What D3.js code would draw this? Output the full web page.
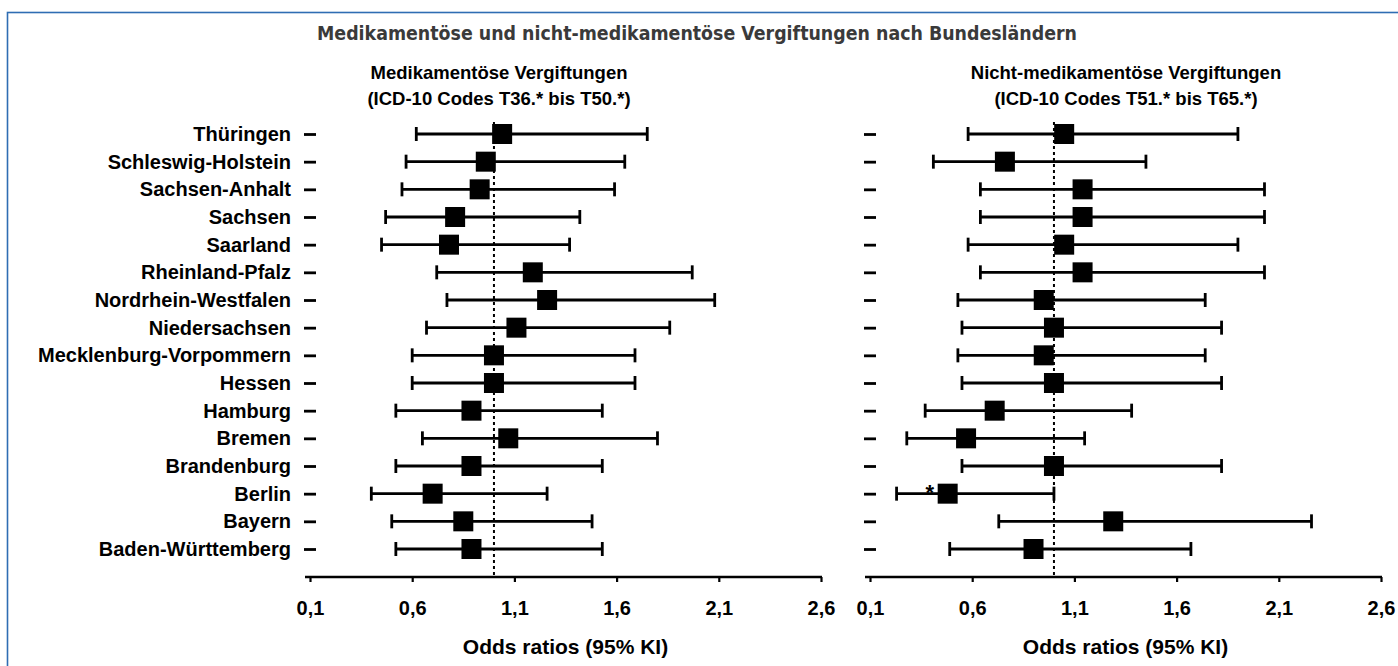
<!DOCTYPE html>
<html>
<head>
<meta charset="utf-8">
<script src="https://cdn.jsdelivr.net/npm/d3@7"></script>
<style>
  body { margin: 0; background: white; }
  text { font-family: "Liberation Sans", Arial, Helvetica, sans-serif; }
</style>
</head>
<body>
<div id="chart"></div>
<script>
var width = 1398,
height = 666;

// rows, top to bottom
var states = ["Thüringen", "Schleswig-Holstein", "Sachsen-Anhalt", "Sachsen", "Saarland",
  "Rheinland-Pfalz", "Nordrhein-Westfalen", "Niedersachsen", "Mecklenburg-Vorpommern",
  "Hessen", "Hamburg", "Bremen", "Brandenburg", "Berlin", "Bayern", "Baden-Württemberg"];

// Medikamentöse Vergiftungen: odds ratio, lower / upper 95% KI
var medOR   = [1.04, 0.96, 0.93, 0.81, 0.78, 1.19, 1.26, 1.11, 1.00, 1.00, 0.89, 1.07, 0.89, 0.70, 0.85, 0.89];
var medLow  = [0.62, 0.57, 0.55, 0.47, 0.45, 0.72, 0.77, 0.67, 0.60, 0.60, 0.52, 0.65, 0.52, 0.40, 0.50, 0.52];
var medHigh = [1.75, 1.64, 1.59, 1.42, 1.37, 1.97, 2.08, 1.86, 1.69, 1.69, 1.53, 1.80, 1.53, 1.26, 1.48, 1.53];

// Nicht-medikamentöse Vergiftungen
var nonOR   = [1.05, 0.76, 1.14, 1.14, 1.05, 1.14, 0.95, 1.00, 0.95, 1.00, 0.71, 0.57, 1.00, 0.48, 1.29, 0.90];
var nonLow  = [0.58, 0.41, 0.64, 0.64, 0.58, 0.64, 0.53, 0.55, 0.53, 0.55, 0.37, 0.28, 0.55, 0.23, 0.73, 0.49];
var nonHigh = [1.90, 1.45, 2.03, 2.03, 1.90, 2.03, 1.74, 1.82, 1.74, 1.82, 1.38, 1.15, 1.82, 1.00, 2.26, 1.67];
var nonStars = ["Berlin"];

var tickValues = [0.1, 0.6, 1.1, 1.6, 2.1, 2.6];
var tickLabels = ["0,1", "0,6", "1,1", "1,6", "2,1", "2,6"];
var refValue = 1.0;

var mainTitle = "Medikamentöse und nicht-medikamentöse Vergiftungen nach Bundesländern";
var axisTitle = "Odds ratios (95% KI)";

var svg = d3.select("#chart").append("svg")
  .attr("width", width)
  .attr("height", height);

// blue frame
svg.append("rect")
  .attr("x", 7.5)
  .attr("y", 12.5)
  .attr("width", width + 20)
  .attr("height", height + 20)
  .attr("fill", "none")
  .attr("stroke", "#2f6db3")
  .attr("stroke-width", 1.6);

svg.append("text")
  .attr("x", 697)
  .attr("y", 40)
  .attr("text-anchor", "middle")
  .attr("textLength", 760)
  .attr("lengthAdjust", "spacingAndGlyphs")
  .style("font-family", "'DejaVu Sans Condensed', 'DejaVu Sans', sans-serif")
  .style("font-size", "20px")
  .style("font-weight", "bold")
  .style("fill", "#3a3a3a")
  .text(mainTitle);

var y = d3.scalePoint()
  .domain(states)
  .range([134, 549]);

var axisY = 577;

graph({
  range: [310, 821],
  titleX: 499,
  titles: ["Medikamentöse Vergiftungen", "(ICD-10 Codes T36.* bis T50.*)"],
  or: medOR, low: medLow, high: medHigh,
  labels: true, stars: []
});

graph({
  range: [870, 1381],
  titleX: 1126,
  titles: ["Nicht-medikamentöse Vergiftungen", "(ICD-10 Codes T51.* bis T65.*)"],
  or: nonOR, low: nonLow, high: nonHigh,
  labels: false, stars: nonStars
});

function graph(p) {
  var x = d3.scaleLinear()
    .domain([0.1, 2.6])
    .range(p.range);

  var g = svg.append("g");

  g.selectAll(".sub-title")
    .data(p.titles)
    .enter().append("text")
    .attr("class", "sub-title")
    .attr("x", p.titleX)
    .attr("y", function(d, i) { return 79 + i * 26; })
    .attr("text-anchor", "middle")
    .style("font-size", "18.5px")
    .style("font-weight", "bold")
    .text(function(d) { return d; });

  // y ticks with state names
  var yAxis = d3.axisLeft(y)
    .tickSize(12)
    .tickPadding(13)
    .tickFormat(function(d) { return p.labels ? d : ""; });

  var ya = g.append("g")
    .attr("transform", "translate(" + (p.range[0] + 6) + ",0)")
    .call(yAxis);
  ya.select(".domain").remove();
  ya.selectAll("line").attr("stroke", "#000").attr("stroke-width", 2.8);
  ya.selectAll("text")
    .attr("fill", "#000")
    .style("font-family", "'Liberation Sans', Arial, sans-serif")
    .style("font-size", "20px")
    .style("font-weight", "bold");

  // x axis
  var xAxis = d3.axisBottom(x)
    .tickValues(tickValues)
    .tickFormat(function(d, i) { return tickLabels[i]; })
    .tickSize(5)
    .tickSizeOuter(0)
    .tickPadding(19);

  var xa = g.append("g")
    .attr("transform", "translate(0," + axisY + ")")
    .call(xAxis);
  xa.select(".domain").remove();
  xa.selectAll("line").attr("stroke", "#000").attr("stroke-width", 2.2);
  xa.selectAll("text")
    .attr("fill", "#000")
    .style("font-family", "'Liberation Sans', Arial, sans-serif")
    .style("font-size", "20px")
    .style("font-weight", "bold");

  g.append("line")
    .attr("x1", p.range[0] - 5)
    .attr("x2", p.range[1] + 1)
    .attr("y1", axisY)
    .attr("y2", axisY)
    .attr("stroke", "#000")
    .attr("stroke-width", 2.4);

  g.append("text")
    .attr("x", (p.range[0] + p.range[1]) / 2)
    .attr("y", 654)
    .attr("text-anchor", "middle")
    .style("font-size", "21px")
    .style("font-weight", "bold")
    .text(axisTitle);

  // reference line at OR = 1
  g.append("line")
    .attr("x1", x(refValue))
    .attr("x2", x(refValue))
    .attr("y1", y(states[0]) - 12)
    .attr("y2", axisY)
    .attr("stroke", "#000")
    .attr("stroke-width", 2)
    .attr("stroke-dasharray", "3,3");

  var rows = states.map(function(s, i) {
    return { state: s, or: p.or[i], low: p.low[i], high: p.high[i] };
  });

  var row = g.selectAll(".row")
    .data(rows)
    .enter().append("g")
    .attr("class", "row");

  row.append("line")
    .attr("x1", function(d) { return x(d.low); })
    .attr("x2", function(d) { return x(d.high); })
    .attr("y1", function(d) { return y(d.state); })
    .attr("y2", function(d) { return y(d.state); })
    .attr("stroke", "#000")
    .attr("stroke-width", 2.8);

  row.selectAll(".cap")
    .data(function(d) { return [d.low, d.high].map(function(v) { return { v: v, state: d.state }; }); })
    .enter().append("line")
    .attr("class", "cap")
    .attr("x1", function(d) { return x(d.v); })
    .attr("x2", function(d) { return x(d.v); })
    .attr("y1", function(d) { return y(d.state) - 7; })
    .attr("y2", function(d) { return y(d.state) + 7; })
    .attr("stroke", "#000")
    .attr("stroke-width", 2.8);

  row.append("rect")
    .attr("x", function(d) { return x(d.or) - 10; })
    .attr("y", function(d) { return y(d.state) - 10; })
    .attr("width", 20)
    .attr("height", 20)
    .attr("fill", "#000");

  row.filter(function(d) { return p.stars.indexOf(d.state) >= 0; })
    .append("text")
    .attr("x", function(d) { return x(d.or) - 18; })
    .attr("y", function(d) { return y(d.state) + 6; })
    .attr("text-anchor", "middle")
    .style("font-size", "22px")
    .style("font-weight", "bold")
    .text("*");
}
</script>
</body>
</html>
